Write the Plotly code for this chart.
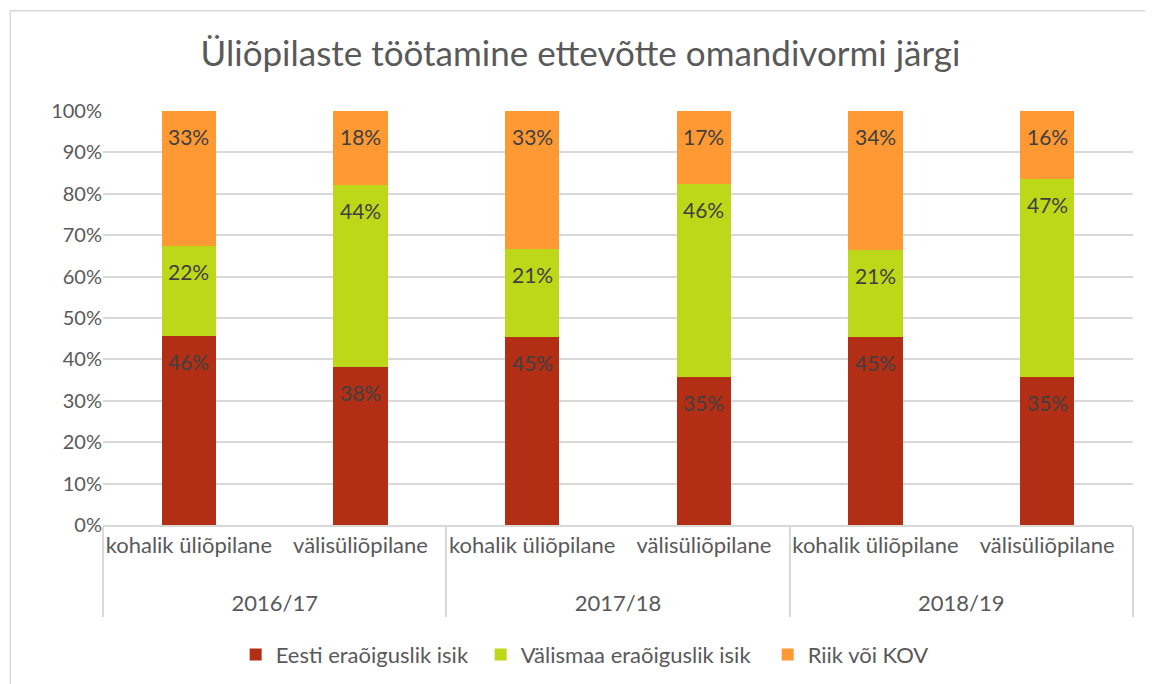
import plotly.graph_objects as go

# Data (shares, Excel 100% stacked normalises them)
years = ["2016/17", "2016/17", "2017/18", "2017/18", "2018/19", "2018/19"]
groups = ["kohalik üliõpilane", "välisüliõpilane"] * 3
eesti = [0.456, 0.382, 0.454, 0.354, 0.454, 0.354]
valismaa = [0.219, 0.439, 0.212, 0.464, 0.210, 0.474]
riik = [0.326, 0.179, 0.334, 0.174, 0.336, 0.164]
y_ticks = [0, 0.1, 0.2, 0.3, 0.4, 0.5, 0.6, 0.7, 0.8, 0.9, 1.0]

font = "Lato, 'Open Sans', sans-serif"
series = [
    ("Eesti eraõiguslik isik", eesti, "#B22E14", 200),
    ("Välismaa eraõiguslik isik", valismaa, "#BDD819", 242),
    ("Riik või KOV", riik, "#FF9933", 130),
]

# extra line break pushes the year row down like in Excel
year_labels = ["<br>" + y for y in years]

fig = go.Figure()
for name, vals, color, lw in series:
    fig.add_trace(go.Bar(
        x=[year_labels, groups], y=vals, name=name,
        marker=dict(color=color, line=dict(width=0)),
        legendwidth=lw,
    ))

# data labels near the top of each segment (Excel "inside end")
totals = [a + b + c for a, b, c in zip(eesti, valismaa, riik)]
annotations = []
for i in range(len(years)):
    top = 0
    for _, vals, _, _ in series:
        top += vals[i] / totals[i]
        annotations.append(dict(
            x=i, y=top, xref="x", yref="y", text=f"{vals[i]:.0%}",
            showarrow=False, yanchor="top", yshift=-11,
            font=dict(family=font, size=21, color="#404040"),
        ))

# page body adds 8px margin, so the figure is 8px smaller
fig.update_layout(
    barmode="stack", barnorm="fraction", bargap=0.685,
    width=1145, height=676,
    margin=dict(l=95, r=20, t=103, b=159, autoexpand=False),
    paper_bgcolor="white", plot_bgcolor="white",
    title=dict(text="Üliõpilaste töötamine ettevõtte omandivormi järgi",
               x=0.5, xanchor="center", y=0.932, yanchor="middle",
               font=dict(family=font, size=35, color="#595959")),
    font=dict(family=font, size=20, color="#595959"),
    annotations=annotations,
    legend=dict(orientation="h", x=0.472, xanchor="center", y=-0.313, yanchor="middle",
                font=dict(size=22, color="#595959"), itemwidth=30,
                traceorder="normal"),
    shapes=[dict(type="rect", xref="paper", yref="paper",
                 x0=-0.09, x1=1.1, y0=-0.5, y1=1.242,
                 line=dict(color="#D9D9D9", width=1.5), fillcolor="rgba(0,0,0,0)",
                 layer="below")],
)
fig.update_yaxes(range=[0, 1], tickvals=y_ticks, tickformat=".0%",
                 showgrid=True, gridcolor="#D9D9D9", gridwidth=1.5,
                 zeroline=False, showline=False, ticks="", ticklen=0,
                 automargin=False, tickfont=dict(size=20, color="#595959"))
fig.update_xaxes(showline=True, linecolor="#D9D9D9", linewidth=1.5,
                 showdividers=True, dividercolor="#D9D9D9", dividerwidth=1.5,
                 ticks="", tickangle=0, automargin=False,
                 tickfont=dict(size=22, color="#595959"))

fig.write_html("out.html")
